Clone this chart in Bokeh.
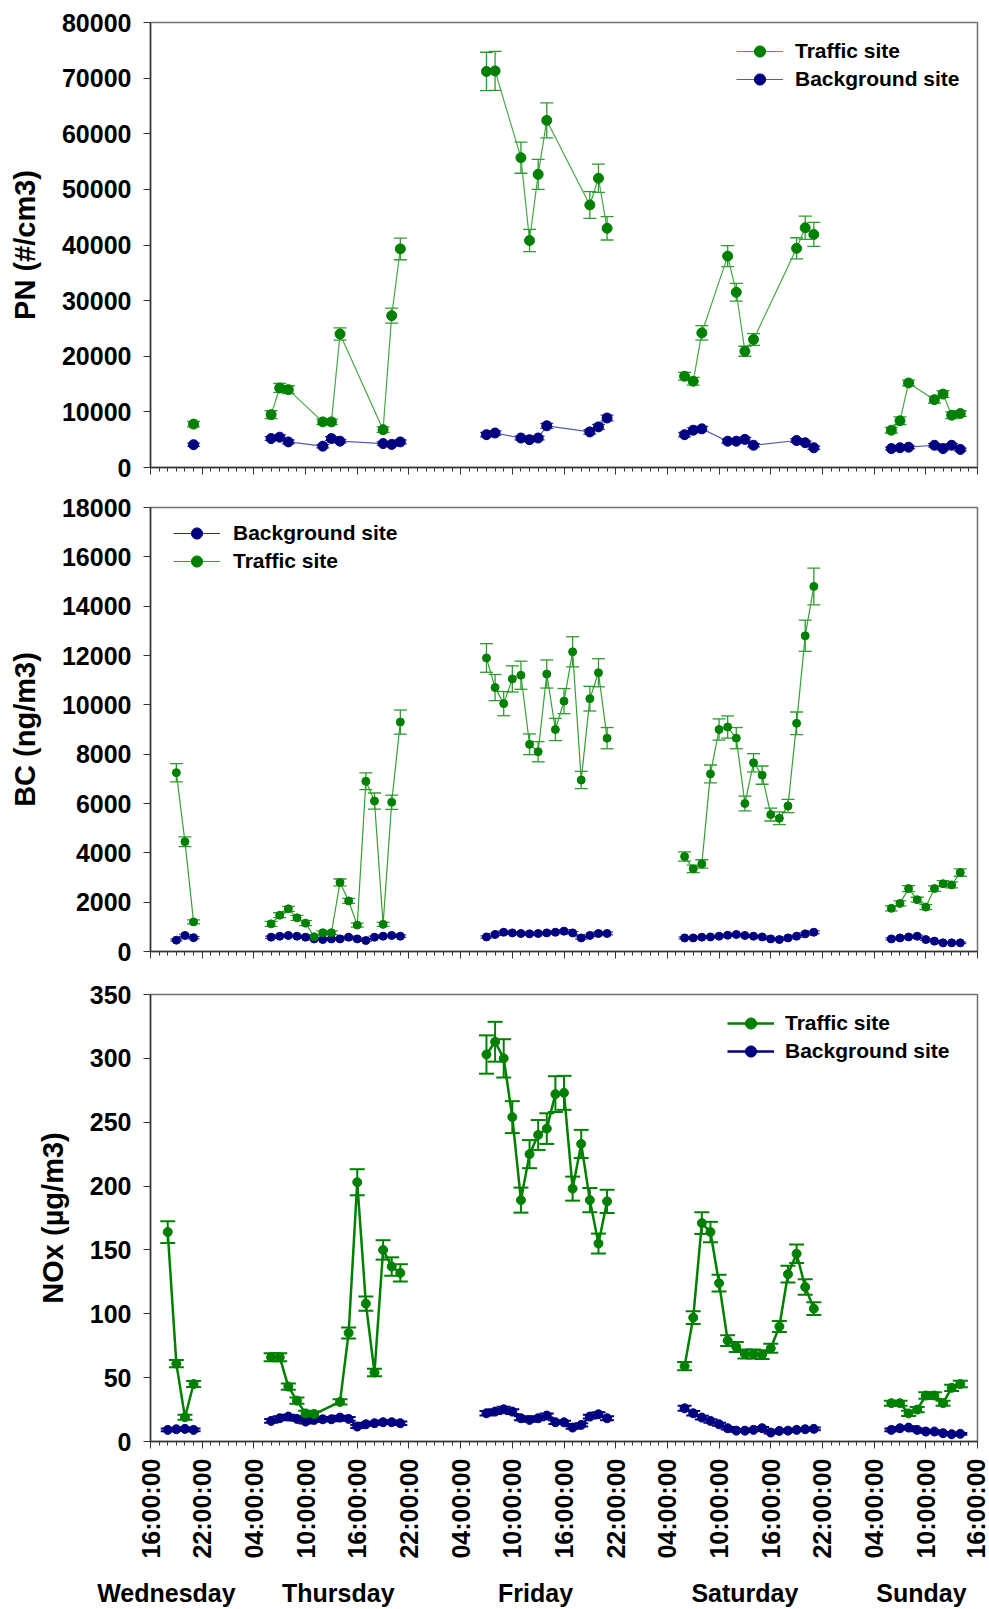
import math
from bokeh.plotting import figure
from bokeh.models import (ColumnDataSource, Whisker, TeeHead, FixedTicker, Legend,
                          LegendItem, LinearAxis, Range1d)
from bokeh.layouts import column
from bokeh.embed import file_html
from bokeh.resources import INLINE

FONT = "Liberation Sans"

# ---------------- x axis (time) ----------------
x_tick_labels = ["16:00:00", "22:00:00", "04:00:00", "10:00:00",
                 "16:00:00", "22:00:00", "04:00:00", "10:00:00",
                 "16:00:00", "22:00:00", "04:00:00", "10:00:00",
                 "16:00:00", "22:00:00", "04:00:00", "10:00:00",
                 "16:00:00"]
day_names = ["Wednesday", "Thursday", "Friday", "Saturday", "Sunday"]
day_label_pos = [1.85, 21.8, 44.7, 69.0, 89.5]     # hours after Wed 16:00 (label placement)
DAY_OFFSET = {"Wed": -16, "Thu": 8, "Fri": 32, "Sat": 56, "Sun": 80}

# ---------------- PN ----------------
pn_time = ["Wed 21:00",
           "Thu 06:00", "Thu 07:00", "Thu 08:00", "Thu 12:00", "Thu 13:00", "Thu 14:00", "Thu 19:00", "Thu 20:00", "Thu 21:00",
           "Fri 07:00", "Fri 08:00", "Fri 11:00", "Fri 12:00", "Fri 13:00", "Fri 14:00", "Fri 19:00", "Fri 20:00", "Fri 21:00",
           "Sat 06:00", "Sat 07:00", "Sat 08:00", "Sat 11:00", "Sat 12:00", "Sat 13:00", "Sat 14:00", "Sat 19:00", "Sat 20:00", "Sat 21:00",
           "Sun 06:00", "Sun 07:00", "Sun 08:00", "Sun 11:00", "Sun 12:00", "Sun 13:00", "Sun 14:00"]
pn_traffic = [7800,
              9500, 14300, 14000, 8200, 8200, 24000, 6800, 27300, 39300,
              71200, 71300, 55700, 40800, 52700, 62400, 47200, 52000, 43000,
              16400, 15500, 24200, 38000, 31500, 20900, 23000, 39400, 43100, 41900,
              6700, 8400, 15200, 12200, 13200, 9400, 9700]
pn_traffic_err = [500,
                  700, 800, 700, 500, 500, 1100, 500, 1350, 1950,
                  3450, 3500, 2800, 2000, 2700, 3150, 2400, 2550, 2100,
                  700, 700, 1300, 1900, 1600, 900, 1050, 1900, 2100, 2150,
                  500, 700, 500, 600, 600, 600, 500]
pn_background = [4100,
                 5200, 5450, 4600, 3830, 5200, 4730, 4300, 4150, 4600,
                 5900, 6200, 5300, 5000, 5300, 7500, 6400, 7300, 8900,
                 5900, 6700, 6950, 4730, 4730, 5050, 4000, 4850, 4450, 3550,
                 3400, 3550, 3650, 4000, 3400, 4000, 3250]
pn_background_err = [300,
                     350, 400, 350, 300, 350, 300, 300, 300, 350,
                     400, 400, 350, 350, 350, 450, 400, 450, 500,
                     400, 450, 450, 350, 350, 350, 300, 350, 300, 300,
                     250, 250, 250, 300, 250, 300, 250]
pn_ticks = [0, 10000, 20000, 30000, 40000, 50000, 60000, 70000, 80000]
pn_tick_labels = ["0", "10000", "20000", "30000", "40000", "50000", "60000", "70000", "80000"]

# ---------------- BC ----------------
bc_time = ["Wed 19:00", "Wed 20:00", "Wed 21:00",
           "Thu 06:00", "Thu 07:00", "Thu 08:00", "Thu 09:00", "Thu 10:00", "Thu 11:00", "Thu 12:00", "Thu 13:00",
           "Thu 14:00", "Thu 15:00", "Thu 16:00", "Thu 17:00", "Thu 18:00", "Thu 19:00", "Thu 20:00", "Thu 21:00",
           "Fri 07:00", "Fri 08:00", "Fri 09:00", "Fri 10:00", "Fri 11:00", "Fri 12:00", "Fri 13:00", "Fri 14:00",
           "Fri 15:00", "Fri 16:00", "Fri 17:00", "Fri 18:00", "Fri 19:00", "Fri 20:00", "Fri 21:00",
           "Sat 06:00", "Sat 07:00", "Sat 08:00", "Sat 09:00", "Sat 10:00", "Sat 11:00", "Sat 12:00", "Sat 13:00",
           "Sat 14:00", "Sat 15:00", "Sat 16:00", "Sat 17:00", "Sat 18:00", "Sat 19:00", "Sat 20:00", "Sat 21:00",
           "Sun 06:00", "Sun 07:00", "Sun 08:00", "Sun 09:00", "Sun 10:00", "Sun 11:00", "Sun 12:00", "Sun 13:00", "Sun 14:00"]
bc_traffic = [7250, 4450, 1200,
              1120, 1470, 1730, 1365, 1150, 600, 760, 760, 2800, 2050, 1070, 6900, 6100, 1100, 6050, 9300,
              11900, 10700, 10050, 11050, 11200, 8400, 8100, 11250, 9000, 10150, 12150, 6950, 10250, 11300, 8650,
              3850, 3350, 3550, 7200, 9000, 9100, 8650, 6000, 7650, 7150, 5550, 5400, 5900, 9250, 12800, 14800,
              1750, 1950, 2550, 2100, 1800, 2550, 2750, 2700, 3200]
bc_traffic_err = [370, 200, 80,
                  100, 100, 100, 100, 100, 80, 80, 80, 140, 100, 80, 340, 325, 80, 290, 490,
                  580, 530, 490, 530, 570, 420, 410, 570, 450, 510, 610, 350, 500, 570, 430,
                  190, 150, 170, 360, 430, 450, 430, 300, 370, 370, 260, 260, 270, 460, 635, 745,
                  100, 100, 120, 100, 100, 110, 120, 120, 150]
bc_background = [460, 650, 560,
                 580, 620, 650, 620, 580, 510, 485, 510, 510, 580, 510, 445, 580, 620, 650, 620,
                 590, 690, 780, 755, 730, 715, 730, 755, 780, 825, 755, 550, 650, 730, 730,
                 550, 550, 580, 590, 620, 660, 690, 650, 620, 590, 510, 485, 550, 620, 715, 780,
                 510, 550, 590, 620, 485, 420, 350, 350, 350]
bc_background_err = [40, 50, 45,
                     45, 50, 50, 50, 45, 40, 40, 40, 40, 45, 40, 40, 45, 50, 50, 50,
                     45, 50, 55, 55, 55, 50, 55, 55, 55, 60, 55, 45, 50, 55, 55,
                     40, 40, 45, 45, 45, 50, 50, 50, 45, 45, 40, 40, 40, 45, 50, 55,
                     40, 40, 45, 45, 40, 35, 30, 30, 30]
bc_ticks = [0, 2000, 4000, 6000, 8000, 10000, 12000, 14000, 16000, 18000]
bc_tick_labels = ["0", "2000", "4000", "6000", "8000", "10000", "12000", "14000", "16000", "18000"]

# ---------------- NOx ----------------
nox_traffic_time = ["Wed 18:00", "Wed 19:00", "Wed 20:00", "Wed 21:00",
                    "Thu 06:00", "Thu 07:00", "Thu 08:00", "Thu 09:00", "Thu 10:00", "Thu 11:00", "Thu 14:00",
                    "Thu 15:00", "Thu 16:00", "Thu 17:00", "Thu 18:00", "Thu 19:00", "Thu 20:00", "Thu 21:00",
                    "Fri 07:00", "Fri 08:00", "Fri 09:00", "Fri 10:00", "Fri 11:00", "Fri 12:00", "Fri 13:00", "Fri 14:00",
                    "Fri 15:00", "Fri 16:00", "Fri 17:00", "Fri 18:00", "Fri 19:00", "Fri 20:00", "Fri 21:00",
                    "Sat 06:00", "Sat 07:00", "Sat 08:00", "Sat 09:00", "Sat 10:00", "Sat 11:00", "Sat 12:00", "Sat 13:00",
                    "Sat 14:00", "Sat 15:00", "Sat 16:00", "Sat 17:00", "Sat 18:00", "Sat 19:00", "Sat 20:00", "Sat 21:00",
                    "Sun 06:00", "Sun 07:00", "Sun 08:00", "Sun 09:00", "Sun 10:00", "Sun 11:00", "Sun 12:00", "Sun 13:00", "Sun 14:00"]
nox_traffic = [164, 61, 19, 45,
               66, 66, 43, 32, 22, 21.5, 31, 85, 203, 108, 54, 150, 137, 132,
               303, 313, 300, 254, 189, 225, 240, 245, 272, 273, 198, 233, 189, 155, 188,
               59, 97, 171, 164, 124, 79, 74, 68.5, 68.5, 68, 73, 90, 131, 147, 121, 104,
               30, 30, 22, 25, 36, 36, 30, 42, 45]
nox_traffic_err = [8.5, 2.9, 2.0, 2.3,
                   3.1, 3.1, 2.5, 2.5, 2.0, 2.0, 2.0, 4.3, 10.2, 5.6, 2.9, 7.6, 7.2, 6.8,
                   15.0, 15.6, 15.0, 12.5, 9.8, 11.0, 11.7, 12.0, 14.0, 13.3, 9.4, 11.0, 9.5, 7.8, 9.1,
                   3.3, 5.0, 8.5, 8.0, 6.5, 4.2, 4.0, 3.5, 3.5, 3.5, 3.5, 4.3, 6.6, 7.2, 6.1, 5.0,
                   2.0, 2.0, 2.0, 2.0, 2.5, 2.5, 2.0, 2.5, 2.5]
nox_background_time = ["Wed 18:00", "Wed 19:00", "Wed 20:00", "Wed 21:00",
                       "Thu 06:00", "Thu 07:00", "Thu 08:00", "Thu 09:00", "Thu 10:00", "Thu 11:00", "Thu 12:00", "Thu 13:00",
                       "Thu 14:00", "Thu 15:00", "Thu 16:00", "Thu 17:00", "Thu 18:00", "Thu 19:00", "Thu 20:00", "Thu 21:00",
                       "Fri 07:00", "Fri 08:00", "Fri 09:00", "Fri 10:00", "Fri 11:00", "Fri 12:00", "Fri 13:00", "Fri 14:00",
                       "Fri 15:00", "Fri 16:00", "Fri 17:00", "Fri 18:00", "Fri 19:00", "Fri 20:00", "Fri 21:00",
                       "Sat 06:00", "Sat 07:00", "Sat 08:00", "Sat 09:00", "Sat 10:00", "Sat 11:00", "Sat 12:00", "Sat 13:00",
                       "Sat 14:00", "Sat 15:00", "Sat 16:00", "Sat 17:00", "Sat 18:00", "Sat 19:00", "Sat 20:00", "Sat 21:00",
                       "Sun 06:00", "Sun 07:00", "Sun 08:00", "Sun 09:00", "Sun 10:00", "Sun 11:00", "Sun 12:00", "Sun 13:00", "Sun 14:00"]
nox_background = [9.1, 9.6, 9.9, 9.1,
                  16.1, 18.2, 19.5, 17.7, 15.6, 16.9, 17.4, 17.4, 18.7, 17.7, 11.7, 13.5, 14.3, 15.1, 15.1, 14.3,
                  22.1, 23.4, 25.2, 23.4, 18.2, 16.9, 18.2, 20.3, 15.1, 15.0, 10.9, 13.0, 19.5, 21.3, 18.2,
                  26.0, 22.1, 18.7, 16.1, 13.5, 10.4, 8.5, 8.5, 9.1, 10.4, 7.0, 8.3, 8.5, 9.1, 9.6, 9.9,
                  9.1, 10.4, 10.9, 9.1, 7.8, 7.8, 6.5, 5.7, 6.0]
nox_background_err = [1.0, 1.0, 1.0, 1.0,
                      1.5, 1.5, 1.5, 1.5, 1.5, 1.5, 1.5, 1.5, 1.5, 1.5, 1.2, 1.2, 1.2, 1.3, 1.3, 1.3,
                      1.8, 1.8, 2.0, 1.8, 1.5, 1.5, 1.5, 1.6, 1.3, 1.3, 1.0, 1.2, 1.5, 1.7, 1.5,
                      2.0, 1.8, 1.5, 1.4, 1.2, 1.0, 0.9, 0.9, 0.9, 1.0, 0.8, 0.9, 0.9, 0.9, 1.0, 1.0,
                      1.0, 1.0, 1.0, 1.0, 0.9, 0.9, 0.8, 0.7, 0.7]
nox_ticks = [0, 50, 100, 150, 200, 250, 300, 350]
nox_tick_labels = ["0", "50", "100", "150", "200", "250", "300", "350"]

GREEN = "#008000"
NAVY = "#000080"


def to_hours(t):
    d, hm = t.split()
    hh, mm = hm.split(":")
    return DAY_OFFSET[d] + int(hh) + int(mm) / 60.0


def add_series(p, times, vals, errs, marker_color, line_color, line_width,
               err_color, err_width, msize, cap):
    x = [to_hours(t) for t in times]
    days = [t.split()[0] for t in times]
    xs, ys = [], []
    for d in dict.fromkeys(days):
        xs.append([xx for xx, dd in zip(x, days) if dd == d])
        ys.append([vv for vv, dd in zip(vals, days) if dd == d])
    line = p.multi_line(xs, ys, line_color=line_color, line_width=line_width)
    src = ColumnDataSource(dict(x=x, y=vals,
                                lo=[v - e for v, e in zip(vals, errs)],
                                hi=[v + e for v, e in zip(vals, errs)]))
    w = Whisker(source=src, base="x", upper="hi", lower="lo", dimension="height",
                line_color=err_color, line_width=err_width,
                upper_head=TeeHead(size=cap, line_color=err_color, line_width=err_width),
                lower_head=TeeHead(size=cap, line_color=err_color, line_width=err_width))
    p.add_layout(w)
    sc = p.scatter("x", "y", source=src, size=msize, fill_color=marker_color,
                   line_color=marker_color, marker="circle")
    return line, sc


def base_fig(height, top, bottom, y_end, ticks, tick_labels, ylabel, show_x_labels):
    p = figure(width=989, height=height, output_backend="svg", toolbar_location=None,
               x_range=Range1d(0, 96), y_range=Range1d(0, y_end),
               min_border_left=150, min_border_right=12, min_border_top=top,
               min_border_bottom=bottom)
    p.grid.visible = False
    p.outline_line_color = "#707070"
    p.outline_line_width = 1.5
    p.background_fill_color = "white"
    p.border_fill_color = "white"

    ya = p.yaxis[0]
    ya.ticker = FixedTicker(ticks=ticks, minor_ticks=[])
    ya.major_label_overrides = {t: l for t, l in zip(ticks, tick_labels)}
    ya.major_label_text_font = FONT
    ya.major_label_text_font_size = "25px"
    ya.major_label_text_font_style = "bold"
    ya.major_label_text_color = "black"
    ya.major_tick_out = 7
    ya.major_tick_in = 0
    ya.major_label_standoff = 12
    ya.axis_line_color = "#333333"
    ya.axis_line_width = 1.5
    ya.major_tick_line_color = "#333333"
    ya.axis_label = ylabel
    ya.axis_label_text_font = FONT
    ya.axis_label_text_font_size = "29px"
    ya.axis_label_text_font_style = "bold"
    ya.axis_label_text_color = "black"
    ya.axis_label_standoff = 18

    xa = p.xaxis[0]
    x_major = list(range(0, 97, 6))
    xa.ticker = FixedTicker(ticks=x_major, minor_ticks=list(range(0, 97)))
    xa.major_tick_out = 7
    xa.major_tick_in = 0
    xa.minor_tick_out = 4
    xa.minor_tick_in = 0
    xa.axis_line_color = "#333333"
    xa.axis_line_width = 1.5
    xa.major_tick_line_color = "#333333"
    xa.minor_tick_line_color = "#333333"
    if show_x_labels:
        xa.major_label_overrides = {t: l for t, l in zip(x_major, x_tick_labels)}
        xa.major_label_orientation = math.pi / 2
        xa.major_label_text_font = FONT
        xa.major_label_text_font_size = "25px"
        xa.major_label_text_font_style = "bold"
        xa.major_label_text_color = "black"
        xa.major_label_standoff = 10
    else:
        xa.major_label_overrides = {t: "" for t in x_major}
        xa.major_label_standoff = 0
    return p


def make_legend(p, items, loc, standoff):
    leg = Legend(items=[LegendItem(label=lab, renderers=list(r)) for lab, r in items],
                 location=loc, glyph_width=47, glyph_height=28, label_height=28,
                 spacing=0, padding=0, label_standoff=standoff,
                 border_line_color=None, background_fill_alpha=0,
                 label_text_font=FONT, label_text_font_size="21px",
                 label_text_font_style="bold", label_text_color="black")
    p.add_layout(leg)


# ---- panel 1: PN ----
p1 = base_fig(487, 22, 20, 80000, pn_ticks, pn_tick_labels, "PN (#/cm3)", False)
bl1 = add_series(p1, pn_time, pn_background, pn_background_err, NAVY, "#5a5ab4", 1.2,
                 "#3c3ca8", 1.2, 10, 13)
tl1 = add_series(p1, pn_time, pn_traffic, pn_traffic_err, GREEN, "#45a845", 1.2,
                 "#2f9a2f", 1.3, 10, 13)
make_legend(p1, [("Traffic site", tl1), ("Background site", bl1)], (586, 374), 12)

# ---- panel 2: BC ----
p2 = base_fig(485, 20, 21, 18000, bc_ticks, bc_tick_labels, "BC (ng/m3)", False)
bl2 = add_series(p2, bc_time, bc_background, bc_background_err, NAVY, "#2a2a9a", 1.2,
                 "#3c3ca8", 1.2, 8, 12)
tl2 = add_series(p2, bc_time, bc_traffic, bc_traffic_err, GREEN, "#33a033", 1.2,
                 "#2f9a2f", 1.3, 8, 13)
make_legend(p2, [("Background site", bl2), ("Traffic site", tl2)], (23, 376), 13)

# ---- panel 3: NOx ----
p3 = base_fig(637, 22, 167, 350, nox_ticks, nox_tick_labels, "NOx (µg/m3)", True)
bl3 = add_series(p3, nox_background_time, nox_background, nox_background_err, NAVY, NAVY, 2.5,
                 NAVY, 2, 9, 14)
tl3 = add_series(p3, nox_traffic_time, nox_traffic, nox_traffic_err, GREEN, GREEN, 2.5,
                 GREEN, 2, 9, 15)
make_legend(p3, [("Traffic site", tl3), ("Background site", bl3)], (577, 376), 11)

day_axis = LinearAxis(ticker=FixedTicker(ticks=day_label_pos, minor_ticks=[]),
                      major_label_overrides={pos: name for pos, name in zip(day_label_pos, day_names)},
                      axis_line_color=None, major_tick_line_color=None, minor_tick_line_color=None,
                      major_tick_out=0, major_tick_in=0, major_label_standoff=17,
                      major_label_text_font=FONT, major_label_text_font_size="25px",
                      major_label_text_font_style="bold", major_label_text_color="black")
p3.add_layout(day_axis, "below")

layout = column(p1, p2, p3, spacing=0)
open("out.html", "w").write(file_html(layout, INLINE))
